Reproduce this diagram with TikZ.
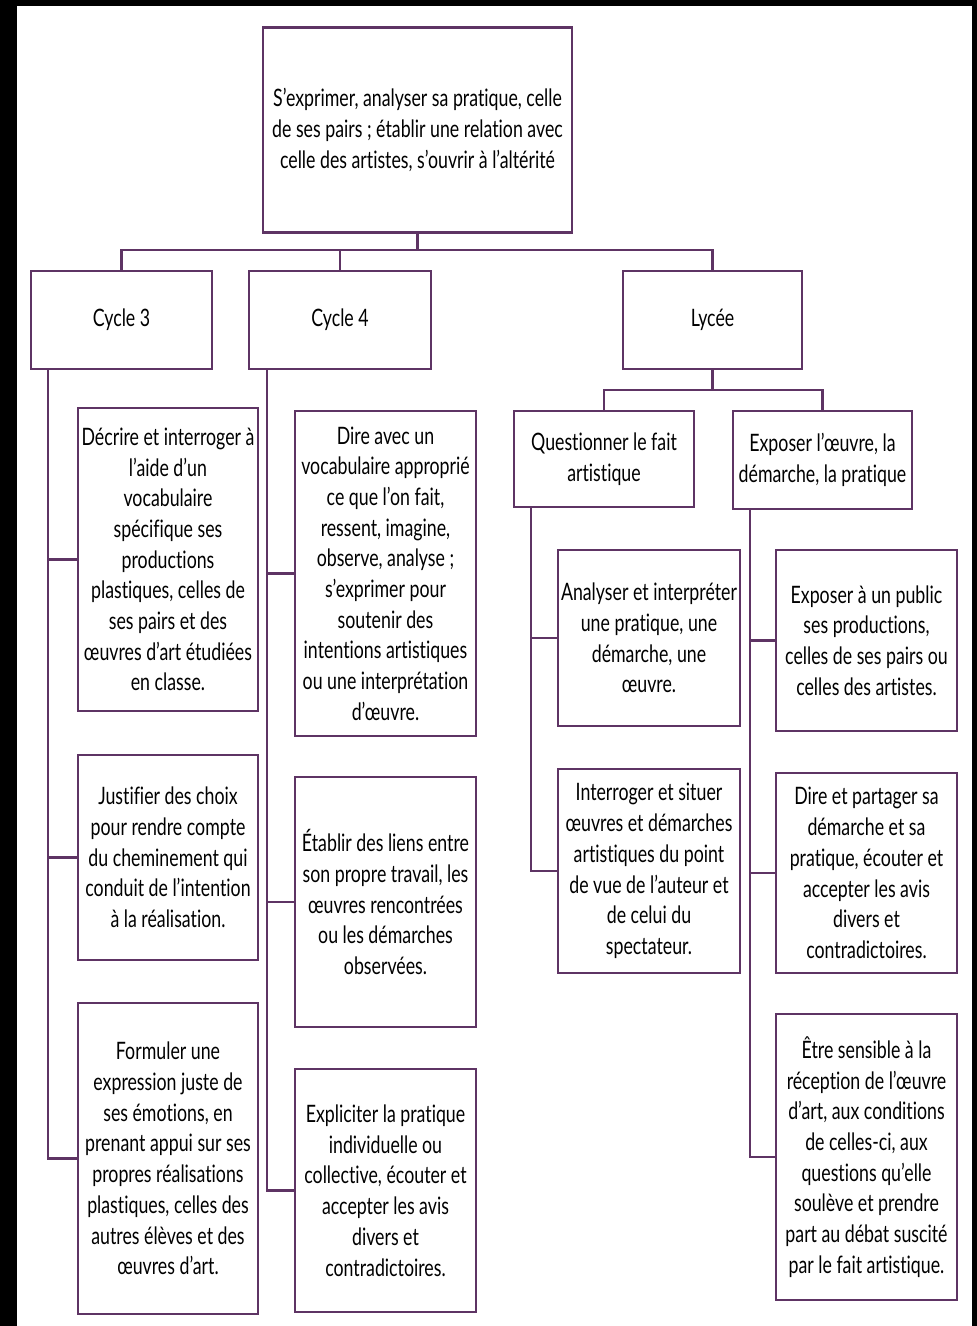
\documentclass[tikz,border=0pt]{standalone}
\usepackage{fontspec}
\setmainfont[FakeStretch=0.74,Ligatures={NoCommon}]{Lato}
\usetikzlibrary{calc}
\definecolor{framec}{RGB}{94,52,100}
\tikzset{
  box/.style={draw=framec, line width=2.2pt, fill=white, inner sep=0pt, align=center,
    font=\fontsize{24}{30.7}\selectfont, text=black},
  link/.style={draw=framec, line width=2.2pt},
}
\begin{document}
\begin{tikzpicture}[x=1pt,y=-1pt]
\useasboundingbox (0,0) rectangle (977,1326);
\fill[black] (0,0) rectangle (977,1326);
\fill[white] (17,6) rectangle (972,1326);

\node[box, minimum width=309pt, minimum height=205pt] (top) at (417.5,130)
  {S’exprimer, analyser sa pratique, celle\\de ses pairs ; établir une relation avec\\celle des artistes, s’ouvrir à l’altérité};

\node[box, minimum width=181pt, minimum height=98pt] (c3) at (121.5,320) {Cycle 3};
\node[box, minimum width=182pt, minimum height=98pt] (c4) at (340,320) {Cycle 4};
\node[box, minimum width=179pt, minimum height=98pt] (ly) at (712.5,320) {Lycée};

\node[box, minimum width=180pt, minimum height=96pt] (q) at (604,459) {Questionner le fait\\artistique};
\node[box, minimum width=179pt, minimum height=98pt] (e) at (822.5,460) {Exposer l’œuvre, la\\démarche, la pratique};

\node[box, minimum width=180pt, minimum height=303pt] (c3a) at (168,559.5)
  {Décrire et interroger à\\l’aide d’un\\vocabulaire\\spécifique ses\\productions\\plastiques, celles de\\ses pairs et des\\œuvres d’art étudiées\\en classe.};
\node[box, minimum width=180pt, minimum height=205pt] (c3b) at (168,857.5)
  {Justifier des choix\\pour rendre compte\\du cheminement qui\\conduit de l’intention\\à la réalisation.};
\node[box, minimum width=180pt, minimum height=311pt] (c3c) at (168,1158.5)
  {Formuler une\\expression juste de\\ses émotions, en\\prenant appui sur ses\\propres réalisations\\plastiques, celles des\\autres élèves et des\\œuvres d’art.};

\node[box, minimum width=181pt, minimum height=325pt] (c4a) at (385.5,573.5)
  {Dire avec un\\vocabulaire approprié\\ce que l’on fait,\\ressent, imagine,\\observe, analyse ;\\s’exprimer pour\\soutenir des\\intentions artistiques\\ou une interprétation\\d’œuvre.};
\node[box, minimum width=181pt, minimum height=250pt] (c4b) at (385.5,902)
  {Établir des liens entre\\son propre travail, les\\œuvres rencontrées\\ou les démarches\\observées.};
\node[box, minimum width=181pt, minimum height=243pt] (c4c) at (385.5,1190.5)
  {Expliciter la pratique\\individuelle ou\\collective, écouter et\\accepter les avis\\divers et\\contradictoires.};

\node[box, minimum width=182pt, minimum height=176pt] (qa) at (649,638)
  {Analyser et interpréter\\une pratique, une\\démarche, une\\œuvre.};
\node[box, minimum width=182pt, minimum height=204pt] (qb) at (649,871)
  {Interroger et situer\\œuvres et démarches\\artistiques du point\\de vue de l’auteur et\\de celui du\\spectateur.};

\node[box, minimum width=181pt, minimum height=181pt] (ea) at (866.5,640.5)
  {Exposer à un public\\ses productions,\\celles de ses pairs ou\\celles des artistes.};
\node[box, minimum width=181pt, minimum height=200pt] (eb) at (866.5,873)
  {Dire et partager sa\\démarche et sa\\pratique, écouter et\\accepter les avis\\divers et\\contradictoires.};
\node[box, minimum width=181pt, minimum height=286pt] (ec) at (866.5,1157)
  {Être sensible à la\\réception de l’œuvre\\d’art, aux conditions\\de celles-ci, aux\\questions qu’elle\\soulève et prendre\\part au débat suscité\\par le fait artistique.};

% top-level connectors
\coordinate (j1) at (417.5,250);
\draw[link] (top.south) -- (j1);
\draw[link] (j1) -| (c3.north);
\draw[link] (j1) -| (c4.north);
\draw[link] (j1) -| (ly.north);

\coordinate (j2) at (712.5,390);
\draw[link] (ly.south) -- (j2);
\draw[link] (j2) -| (q.north);
\draw[link] (j2) -| (e.north);

% rails
\draw[link] ([xshift=18pt]c3.south west) |- (c3a.west);
\draw[link] ([xshift=18pt]c3.south west) |- (c3b.west);
\draw[link] ([xshift=18pt]c3.south west) |- (c3c.west);

\draw[link] ([xshift=19pt]c4.south west) |- (c4a.west);
\draw[link] ([xshift=19pt]c4.south west) |- (c4b.west);
\draw[link] ([xshift=19pt]c4.south west) |- (c4c.west);

\draw[link] ([xshift=18pt]q.south west) |- (qa.west);
\draw[link] ([xshift=18pt]q.south west) |- (qb.west);

\draw[link] ([xshift=18pt]e.south west) |- (ea.west);
\draw[link] ([xshift=18pt]e.south west) |- (eb.west);
\draw[link] ([xshift=18pt]e.south west) |- (ec.west);
\end{tikzpicture}
\end{document}
